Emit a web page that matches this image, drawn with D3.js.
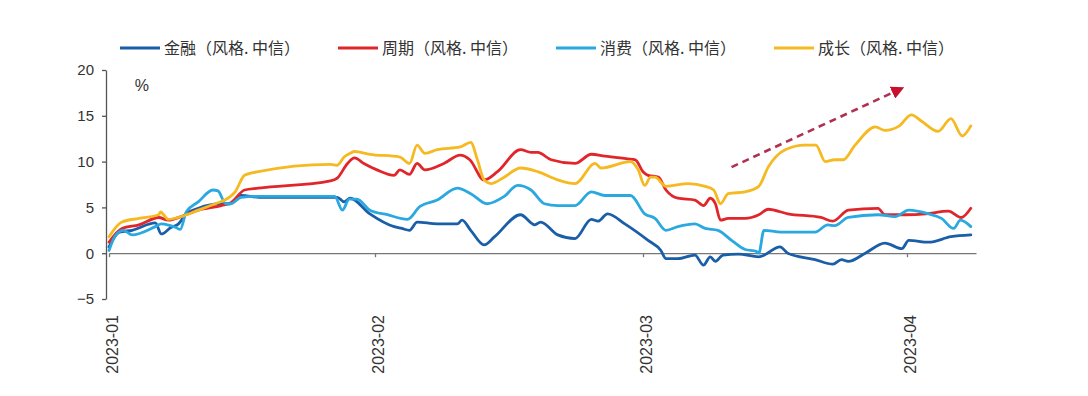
<!DOCTYPE html>
<html><head><meta charset="utf-8">
<script src="https://cdn.jsdelivr.net/npm/d3@7"></script>
<style>
html,body{margin:0;padding:0;background:#fff;}
svg{display:block;}
</style></head>
<body>
<svg id="chart" width="1088" height="396"></svg>
<script>
// ---- data (x = days since 2023-01-01, y = cumulative return %) ----
const monthTicks = [0, 31, 59, 90];
const monthLabels = ["2023-01", "2023-02", "2023-03", "2023-04"];
const yTicks = [-5, 0, 5, 10, 15, 20];
const seriesNames = ["金融（风格. 中信）", "周期（风格. 中信）", "消费（风格. 中信）", "成长（风格. 中信）"];

const jinrong = [[0,0.7],[1.2,2.3],[2.7,2.5],[5.4,3.3],[6.1,2.1],[7.2,2.8],[8.1,3.2],[9.0,4.3],[10.4,4.9],[13.1,5.4],[14.1,5.4],[15.4,6.3],[17.5,6.1],[26.6,6.1],[27.4,5.6],[28.1,6.0],[30.4,4.3],[33.0,2.9],[33.8,2.7],[34.6,2.5],[35.4,3.4],[37.5,3.2],[39.6,3.2],[40.1,3.6],[41.0,2.5],[42.4,0.9],[43.5,1.8],[46.2,4.2],[47.7,3.1],[48.3,3.4],[50.1,2.0],[51.9,1.6],[53.6,3.7],[54.3,3.5],[55.3,4.3],[57.1,3.2],[59.6,1.4],[61.1,0.3],[61.7,-0.6],[63.1,-0.6],[65.1,-0.2],[66.1,-1.3],[66.9,-0.4],[67.5,-0.9],[68.4,-0.2],[70.2,-0.1],[72.6,-0.4],[75.1,0.7],[76.0,0.0],[79.2,-0.7],[81.3,-1.2],[82.3,-0.7],[83.1,-0.9],[85.1,0.0],[87.4,1.1],[89.4,0.5],[90.2,1.4],[92.5,1.2],[95.1,1.8],[97.4,2.0]];

const zhouqi = [[0,1.2],[1.5,2.7],[3.5,3.1],[5.8,3.9],[6.9,3.6],[8.4,4.0],[10.4,4.7],[13.1,5.2],[14.2,5.5],[15.8,6.9],[17.4,7.1],[25.8,7.9],[26.6,8.2],[27.8,9.8],[28.6,10.4],[29.7,9.8],[31.2,9.1],[33.0,8.5],[33.6,9.1],[34.6,8.6],[35.4,9.8],[36.2,9.1],[38.2,9.8],[39.9,10.7],[40.9,10.2],[42.4,8.0],[43.8,8.9],[46.2,11.3],[47.3,11.0],[48.0,11.0],[49.4,10.2],[51.9,9.8],[53.6,10.8],[55.0,10.6],[57.4,10.3],[58.2,10.2],[59.0,8.9],[59.6,8.5],[60.8,8.3],[61.7,6.9],[63.1,6.0],[65.1,5.8],[66.1,5.2],[66.9,6.0],[67.5,5.4],[68.1,3.6],[69.0,3.8],[71.0,3.8],[72.6,4.2],[73.7,4.8],[76.0,4.3],[79.9,3.9],[81.3,3.5],[83.1,4.7],[86.6,4.9],[87.4,4.2],[89.9,4.2],[92.2,4.3],[94.8,4.6],[96.3,3.9],[97.4,4.9]];

const xiaofei = [[0,0.3],[0.8,2.0],[1.7,2.5],[2.7,2.0],[5.4,2.9],[6.1,3.2],[7.8,2.8],[8.3,2.6],[9.0,4.5],[10.4,5.6],[12.1,6.9],[12.7,6.8],[13.6,5.4],[14.2,5.4],[15.4,6.1],[17.5,6.2],[26.3,6.2],[27.2,4.7],[28.0,5.9],[28.9,5.9],[30.4,4.7],[32.3,4.2],[34.4,3.7],[35.7,5.1],[37.5,5.8],[39.6,7.1],[41.0,6.5],[42.7,5.4],[44.5,6.2],[45.9,7.4],[47.3,6.9],[48.7,5.4],[50.1,5.2],[51.9,5.2],[53.6,6.7],[55.0,6.3],[57.7,6.3],[59.2,4.3],[60.4,3.8],[61.7,2.5],[63.1,2.9],[65.1,3.2],[66.3,2.7],[67.8,2.5],[69.4,1.4],[71.0,0.4],[72.3,0.2],[72.6,0.0],[73.2,2.5],[75.2,2.3],[79.2,2.3],[80.7,3.1],[81.5,3.0],[83.1,3.9],[86.6,4.2],[88.6,4.0],[90.2,4.7],[92.5,4.3],[94.0,3.8],[95.4,2.7],[96.2,3.6],[97.4,2.9]];

const chengzhang = [[0,1.8],[1.5,3.4],[3.5,3.8],[5.8,4.2],[6.0,4.5],[6.9,3.7],[8.4,4.0],[10.4,4.7],[12.7,5.5],[13.5,5.8],[14.7,6.7],[15.8,8.5],[17.4,8.9],[25.8,9.7],[26.6,9.6],[27.4,10.5],[28.1,10.9],[28.6,11.1],[30.4,10.8],[33.6,10.5],[34.6,9.8],[35.4,11.8],[36.2,10.9],[37.5,11.3],[39.9,11.6],[41.0,12.1],[41.7,10.2],[42.4,8.0],[43.1,7.6],[44.5,8.3],[46.2,9.3],[48.0,8.9],[50.1,8.0],[51.9,7.6],[54.0,9.8],[54.6,9.3],[57.7,10.0],[58.5,9.1],[59.2,7.4],[59.9,8.3],[60.4,8.3],[61.7,7.3],[64.3,7.6],[66.3,7.3],[67.3,6.9],[68.1,5.4],[69.0,6.5],[71.0,6.7],[72.6,7.3],[73.7,9.4],[75.7,11.3],[78.0,11.8],[79.3,11.8],[80.4,10.0],[81.5,10.2],[82.5,10.2],[83.9,11.8],[86.3,13.8],[87.4,13.4],[89.1,13.9],[90.5,15.1],[91.7,14.4],[93.6,13.3],[95.1,14.7],[96.4,12.8],[97.4,13.9]];

const arrowFrom = [69.4, 9.4];
const arrowTo = [89.4, 18.0];

// ---- drawing ----
const colors = ["#1a5ea8", "#e0262a", "#2aa8e0", "#f5b921"];
const allSeries = [jinrong, zhouqi, xiaofei, chengzhang];

const svg = d3.select("#chart");
svg.append("rect").attr("width",1088).attr("height",396).attr("fill","#fff");

const x = d3.scaleLinear().domain([0, 31, 59, 90, 98]).range([109, 375, 643, 907, 976]);
const y = d3.scaleLinear().domain([-5, 20]).range([299, 70]);

// y axis
const yAxis = svg.append("g").attr("transform", `translate(${x(0)-3},0)`)
  .call(d3.axisLeft(y).tickValues(yTicks).tickSize(4).tickPadding(8).tickSizeOuter(0));
yAxis.select(".domain").attr("stroke", "#555").attr("stroke-width", 1.3);
yAxis.selectAll(".tick line").attr("stroke", "#555").attr("stroke-width", 1.3);
yAxis.selectAll(".tick text").attr("font-family", "Liberation Sans, Arial, sans-serif")
  .attr("font-size", 15).attr("fill", "#333");

// x axis at zero
const xAxis = svg.append("g").attr("transform", `translate(0,${y(0)})`)
  .call(d3.axisBottom(x).tickValues(monthTicks).tickFormat("").tickSize(4).tickSizeOuter(0));
xAxis.select(".domain").attr("stroke", "#777").attr("stroke-width", 1.3);
xAxis.selectAll(".tick line").attr("stroke", "#777").attr("stroke-width", 1.3);

// x labels at bottom
const xLab = svg.append("g").attr("transform", `translate(0,311)`)
  .call(d3.axisBottom(x).tickValues(monthTicks).tickFormat((d,i) => monthLabels[i]).tickSize(0));
xLab.select(".domain").remove();
xLab.selectAll(".tick text")
  .attr("font-family", "Liberation Sans, Arial, sans-serif").attr("font-size", 16).attr("fill", "#333")
  .attr("transform", "rotate(-90)").attr("text-anchor", "end")
  .attr("x", -4).attr("y", 3).attr("dy", "0.35em");

// % label
svg.append("text").attr("x", x(3)).attr("y", y(17.7)).text("%")
  .attr("font-family", "Liberation Sans, Arial, sans-serif").attr("font-size", 16).attr("fill", "#333");

// lines
const line = d3.line().x(d => x(d[0])).y(d => y(d[1])).curve(d3.curveMonotoneX);
allSeries.forEach((s, i) => {
  svg.append("path").datum(s).attr("d", line)
    .attr("fill", "none").attr("stroke", colors[i]).attr("stroke-width", 2.8)
    .attr("stroke-linejoin", "round").attr("stroke-linecap", "round");
});

// arrow
const defs = svg.append("defs");
defs.append("marker").attr("id", "ah").attr("viewBox", "0 0 10 10").attr("refX", 8).attr("refY", 5)
  .attr("markerWidth", 5).attr("markerHeight", 5).attr("orient", "auto").attr("markerUnits","strokeWidth")
  .append("path").attr("d", "M0,0 L10,5 L0,10 z").attr("fill", "#c8102e");
svg.append("line")
  .attr("x1", x(arrowFrom[0])).attr("y1", y(arrowFrom[1]))
  .attr("x2", x(arrowTo[0])).attr("y2", y(arrowTo[1]))
  .attr("stroke", "#b03050").attr("stroke-width", 2.6).attr("stroke-dasharray", "7,5")
  .attr("marker-end", "url(#ah)");

// legend
const legend = svg.append("g").attr("transform", "translate(120,48)");
seriesNames.forEach((name, i) => {
  const g = legend.append("g").attr("transform", `translate(${i*218},0)`);
  g.append("line").attr("x1", 0).attr("x2", 40).attr("y1", 0).attr("y2", 0)
    .attr("stroke", colors[i]).attr("stroke-width", 3);
  g.append("text").attr("x", 44).attr("y", 0).attr("dy", "0.35em").text(name)
    .attr("font-family", "Noto Sans CJK SC, sans-serif").attr("font-size", 16).attr("fill", "#333");
});
</script>
</body></html>
